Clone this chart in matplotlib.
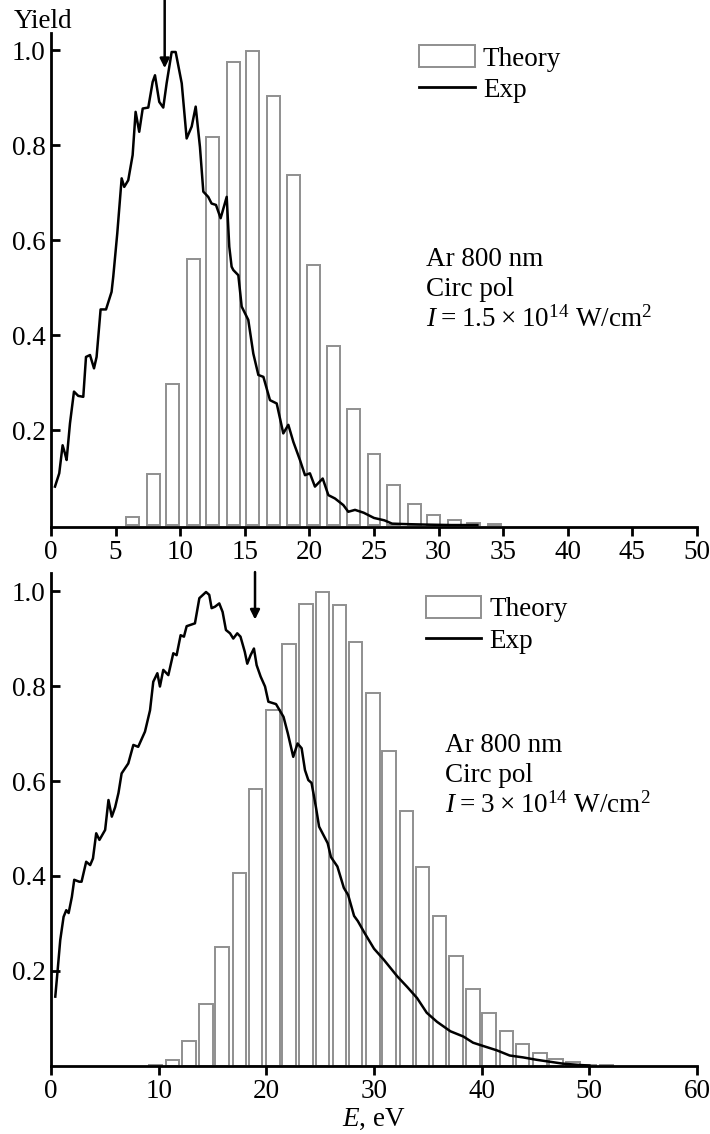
import matplotlib
matplotlib.use("Agg")
import matplotlib.pyplot as plt
from matplotlib.patches import Patch
from matplotlib.lines import Line2D

plt.rcParams['font.family'] = ['Liberation Serif', 'DejaVu Serif']
plt.rcParams['mathtext.fontset'] = 'custom'
plt.rcParams['mathtext.rm'] = 'Liberation Serif'
plt.rcParams['mathtext.it'] = 'Liberation Serif:italic'

# --- upper panel: I = 1.5e14 W/cm^2 ---
theory1_e = [6.3, 7.9, 9.4, 11.0, 12.5, 14.1, 15.6, 17.2, 18.8, 20.3,
             21.9, 23.4, 25.0, 26.5, 28.1, 29.6, 31.2, 32.7, 34.3]
theory1_y = [0.018, 0.107, 0.297, 0.561, 0.818, 0.975, 0.998, 0.903, 0.737, 0.547,
             0.377, 0.244, 0.149, 0.085, 0.045, 0.021, 0.011, 0.005, 0.003]

exp1_e = [0.31, 0.64, 0.90, 1.08, 1.21, 1.47, 1.78, 2.11, 2.50, 2.71, 3.02, 3.33,
          3.53, 3.84, 4.26, 4.69, 4.82, 5.13, 5.47, 5.67, 5.98, 6.32, 6.55, 6.83,
          7.10, 7.53, 7.87, 8.05, 8.38, 8.69, 8.95, 9.34, 9.65, 10.12, 10.50, 10.89,
          11.20, 11.53, 11.79, 12.17, 12.43, 12.77, 13.13, 13.60, 13.80, 13.98, 14.11,
          14.50, 14.76, 15.27, 15.66, 16.05, 16.44, 16.95, 17.47, 17.98, 18.37, 18.76,
          19.27, 19.66, 20.04, 20.43, 21.03, 21.47, 21.98, 22.63, 23.01, 23.53, 24.2,
          25.0, 25.8, 26.4, 27.5, 29.0, 31.0, 33.0]
exp1_y = [0.081, 0.109, 0.168, 0.151, 0.137, 0.214, 0.281, 0.272, 0.270, 0.354, 0.358, 0.330,
          0.354, 0.454, 0.454, 0.491, 0.523, 0.614, 0.730, 0.712, 0.726, 0.779, 0.870, 0.828,
          0.877, 0.879, 0.933, 0.947, 0.891, 0.879, 0.930, 0.996, 0.996, 0.930, 0.814, 0.839,
          0.881, 0.796, 0.702, 0.691, 0.677, 0.674, 0.646, 0.691, 0.586, 0.544, 0.537,
          0.526, 0.460, 0.432, 0.361, 0.316, 0.312, 0.263, 0.256, 0.193, 0.211, 0.175,
          0.137, 0.105, 0.109, 0.081, 0.098, 0.063, 0.056, 0.042, 0.028, 0.032, 0.026,
          0.015, 0.010, 0.003, 0.002, 0.001, 0.0, 0.0]

# --- lower panel: I = 3e14 W/cm^2 ---
theory2_e = [9.7, 11.3, 12.8, 14.4, 15.9, 17.5, 19.0, 20.6, 22.1, 23.7, 25.2, 26.8, 28.3,
             29.9, 31.4, 33.0, 34.5, 36.1, 37.6, 39.2, 40.7, 42.3, 43.8, 45.4, 46.9, 48.5,
             50.0, 51.6]
theory2_y = [0.002, 0.013, 0.053, 0.130, 0.251, 0.407, 0.583, 0.749, 0.888, 0.972, 0.997,
             0.970, 0.892, 0.786, 0.663, 0.537, 0.419, 0.316, 0.231, 0.162, 0.112, 0.073,
             0.046, 0.027, 0.015, 0.008, 0.003, 0.001]

exp2_e = [0.40, 0.62, 0.86, 1.17, 1.42, 1.64, 1.94, 2.16, 2.62, 2.84, 3.27, 3.64, 3.90,
          4.20, 4.50, 5.03, 5.34, 5.65, 5.96, 6.27, 6.56, 7.18, 7.65, 8.10, 8.73, 9.20,
          9.50, 9.88, 10.12, 10.43, 10.90, 11.36, 11.67, 12.04, 12.35, 12.60, 13.37, 13.78,
          14.40, 14.70, 14.92, 15.23, 15.63, 15.94, 16.25, 16.63, 16.93, 17.30, 17.60,
          18.00, 18.23, 18.54, 18.85, 19.10, 19.47, 19.88, 20.19, 20.90, 21.60, 22.00,
          22.50, 22.90, 23.28, 23.59, 23.90, 24.20, 24.60, 24.90, 25.70, 26.00, 26.60,
          27.20, 27.60, 28.15, 28.50, 29.1, 30.0, 30.9, 32.15, 33.1, 34.0, 34.9, 35.85,
          37.1, 38.3, 39.2, 40.15, 41.4, 42.6, 43.85, 45.1, 46.3, 47.5, 49.1, 50.0]
exp2_y = [0.146, 0.202, 0.265, 0.314, 0.328, 0.322, 0.356, 0.392, 0.388, 0.388, 0.430, 0.423,
          0.437, 0.490, 0.476, 0.497, 0.560, 0.525, 0.545, 0.575, 0.616, 0.637, 0.676, 0.672,
          0.704, 0.749, 0.809, 0.827, 0.799, 0.834, 0.823, 0.869, 0.865, 0.907, 0.904, 0.926,
          0.932, 0.985, 0.998, 0.992, 0.964, 0.967, 0.974, 0.956, 0.918, 0.911, 0.900, 0.911,
          0.904, 0.872, 0.847, 0.865, 0.879, 0.844, 0.820, 0.799, 0.767, 0.762, 0.735,
          0.700, 0.651, 0.679, 0.669, 0.623, 0.602, 0.596, 0.546, 0.504, 0.469, 0.440,
          0.420, 0.375, 0.360, 0.316, 0.305, 0.281, 0.247, 0.224, 0.189, 0.166, 0.143,
          0.112, 0.093, 0.073, 0.062, 0.049, 0.042, 0.033, 0.022, 0.018, 0.013, 0.009,
          0.005, 0.002, 0.001]

labels1 = ["Ar 800 nm", "Circ pol", "$I$\u2009=\u20091.5\u2009×\u200910$^{14}$ W/cm$^2$"]
labels2 = ["Ar 800 nm", "Circ pol", "$I$\u2009=\u20093\u2009×\u200910$^{14}$ W/cm$^2$"]

FS = 19.5
BAR_EDGE = '#8f8f8f'

fig = plt.figure(figsize=(7.10, 11.34), dpi=100)
ax1 = fig.add_axes([0.0718, 0.5353, 0.9099, 0.4356])
ax2 = fig.add_axes([0.0718, 0.0600, 0.9099, 0.4347])


def style_axes(ax, xmax, xstep, ytop, ybot):
    ax.set_xlim(0, xmax)
    ax.set_ylim(ybot, ytop)
    for s in ('top', 'right'):
        ax.spines[s].set_visible(False)
    for s in ('left', 'bottom'):
        ax.spines[s].set_linewidth(2.0)
    ax.set_xticks(range(0, xmax + 1, xstep))
    ax.set_yticks([0.2, 0.4, 0.6, 0.8, 1.0])
    ax.set_yticklabels(['0.2', '0.4', '0.6', '0.8', '1.0'])
    ax.tick_params(axis='x', direction='out', length=6.5, width=2.0, pad=3, labelsize=FS)
    ax.tick_params(axis='y', direction='in', length=6.5, width=2.0, pad=4, labelsize=FS)


def draw_panel(ax, te, ty, width, ee, ey, lines, tx, txy, legxy):
    ax.bar(te, ty, width=width, color='white', edgecolor=BAR_EDGE, linewidth=1.4, zorder=2)
    ax.plot(ee, ey, color='black', linewidth=1.8, zorder=3)
    handles = [Patch(facecolor='white', edgecolor=BAR_EDGE, linewidth=1.4),
               Line2D([], [], color='black', linewidth=2.0)]
    ax.legend(handles, ['Theory', 'Exp'], loc='upper left', bbox_to_anchor=legxy,
              frameon=False, fontsize=FS, handlelength=2.05, handleheight=0.85,
              handletextpad=0.3, labelspacing=0.2, borderpad=0, borderaxespad=0)
    for i, s in enumerate(lines):
        ax.text(tx, txy - i * 0.061, s, transform=ax.transAxes, fontsize=FS,
                ha='left', va='center')


style_axes(ax1, 50, 5, 1.036, -0.004)
style_axes(ax2, 60, 10, 1.038, 0.0)

draw_panel(ax1, theory1_e, theory1_y, 1.0, exp1_e, exp1_y, labels1,
           0.58, 0.542, (0.570, 0.975))
draw_panel(ax2, theory2_e, theory2_y, 1.25, exp2_e, exp2_y, labels2,
           0.61, 0.651, (0.580, 0.953))

# arrows marking the cutoffs
ax1.annotate('', xy=(8.8, 0.962), xytext=(8.8, 1.105), annotation_clip=False,
             arrowprops=dict(arrowstyle='-|>', color='black', lw=1.8,
                             mutation_scale=14, shrinkA=0, shrinkB=0))
ax2.annotate('', xy=(18.95, 0.94), xytext=(18.95, 1.04), annotation_clip=False,
             arrowprops=dict(arrowstyle='-|>', color='black', lw=1.8,
                             mutation_scale=14, shrinkA=0, shrinkB=0))

fig.text(0.02, 0.9806, 'Yield', fontsize=FS, ha='left', va='center')
ax2.set_xlabel(r'$E$, eV', fontsize=FS, labelpad=2)

fig.savefig('out.png', dpi=100)
